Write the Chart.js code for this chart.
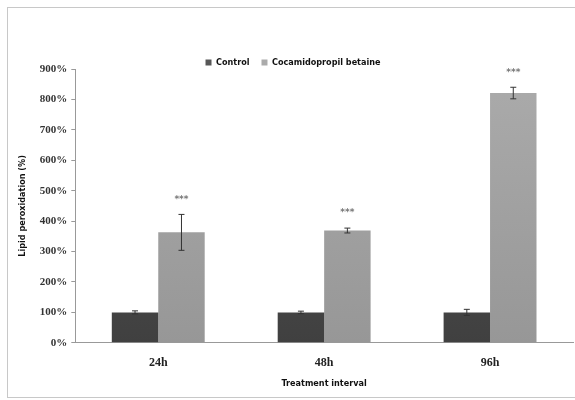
<!DOCTYPE html>
<html>
<head>
<meta charset="utf-8">
<script src="https://cdn.jsdelivr.net/npm/chart.js@4"></script>
<style>
  body { margin: 0; background: #fff; }
  .frame { position: absolute; left: 7px; top: 7px; width: 580px; height: 389px; border: 1px solid #c8c8c8; }
  canvas { position: absolute; left: 0; top: 0; }
</style>
</head>
<body>
<div class="frame"></div>
<canvas id="chart" width="575" height="400"></canvas>
<script>
'use strict';

const intervals = ['24h', '48h', '96h'];
const controlValues = [100, 100, 100];
const controlErrors = [5, 4, 10];
const betaineValues = [363, 369, 821];
const betaineErrors = [59, 8, 19];
const significance = ['***', '***', '***'];

const ctx = document.getElementById('chart').getContext('2d');

const barGradient = function (top, bottom) {
  return function (c) {
    const area = c.chart.chartArea;
    if (!area) return bottom;
    const g = c.chart.ctx.createLinearGradient(0, area.top, 0, area.bottom);
    g.addColorStop(0, top);
    g.addColorStop(1, bottom);
    return g;
  };
};

// error bars and stars
const errorBars = {
  id: 'errorBars',
  afterDatasetsDraw(chart) {
    const c = chart.ctx;
    const y = chart.scales.y;
    chart.data.datasets.forEach((ds, i) => {
      const meta = chart.getDatasetMeta(i);
      meta.data.forEach((bar, j) => {
        const v = ds.data[j];
        const e = ds.errors[j];
        const yTop = y.getPixelForValue(v + e);
        const yBot = y.getPixelForValue(v - e);
        c.save();
        c.strokeStyle = '#333';
        c.lineWidth = 1;
        c.beginPath();
        c.moveTo(bar.x, yTop);
        c.lineTo(bar.x, yBot);
        c.moveTo(bar.x - 3, yTop);
        c.lineTo(bar.x + 3, yTop);
        c.moveTo(bar.x - 3, yBot);
        c.lineTo(bar.x + 3, yBot);
        c.stroke();
        if (ds.stars) {
          c.fillStyle = '#777';
          c.font = 'bold 9px "DejaVu Sans"';
          c.textAlign = 'center';
          c.fillText(ds.stars[j], bar.x, yTop - 15);
        }
        c.restore();
      });
    });
  },
};

new Chart(ctx, {
  type: 'bar',
  data: {
    labels: intervals,
    datasets: [
      {
        label: 'Control',
        data: controlValues,
        errors: controlErrors,
        backgroundColor: barGradient('#575757', '#404040'),
        borderWidth: 0,
      },
      {
        label: 'Cocamidopropil betaine',
        data: betaineValues,
        errors: betaineErrors,
        stars: significance,
        backgroundColor: barGradient('#ababab', '#979797'),
        borderWidth: 0,
      },
    ],
  },
  options: {
    responsive: false,
    animation: false,
    barPercentage: 1,
    categoryPercentage: 0.56,
    layout: { padding: { left: 13, right: 2, top: 46, bottom: 7 } },
    scales: {
      y: {
        min: 0,
        max: 900,
        ticks: {
          stepSize: 100,
          color: '#333',
          padding: 4,
          font: { family: '"Liberation Serif"', size: 11, weight: 'bold' },
          callback: v => v + '%',
        },
        grid: { drawOnChartArea: false, drawTicks: true, tickLength: 4, color: '#999' },
        border: { color: '#999', width: 1 },
        title: {
          display: true,
          text: 'Lipid peroxidation (%)',
          color: '#111',
          font: { family: '"DejaVu Sans Condensed"', size: 9, weight: 'bold' },
          padding: { bottom: 8 },
        },
      },
      x: {
        ticks: {
          color: '#222',
          padding: 5,
          font: { family: '"Liberation Serif"', size: 12, weight: 'bold' },
        },
        grid: { display: false },
        border: { color: '#999', width: 1 },
        title: {
          display: true,
          text: 'Treatment interval',
          color: '#111',
          font: { family: '"DejaVu Sans Condensed"', size: 9, weight: 'bold' },
          padding: { top: 3 },
        },
      },
    },
    plugins: {
      legend: {
        position: 'top',
        maxHeight: 23,
        labels: {
          boxWidth: 6,
          boxHeight: 6,
          color: '#111',
          padding: 12,
          font: { family: '"DejaVu Sans Condensed"', size: 9, weight: 'bold' },
        },
      },
      tooltip: { enabled: false },
    },
  },
  plugins: [errorBars],
});
</script>
</body>
</html>
